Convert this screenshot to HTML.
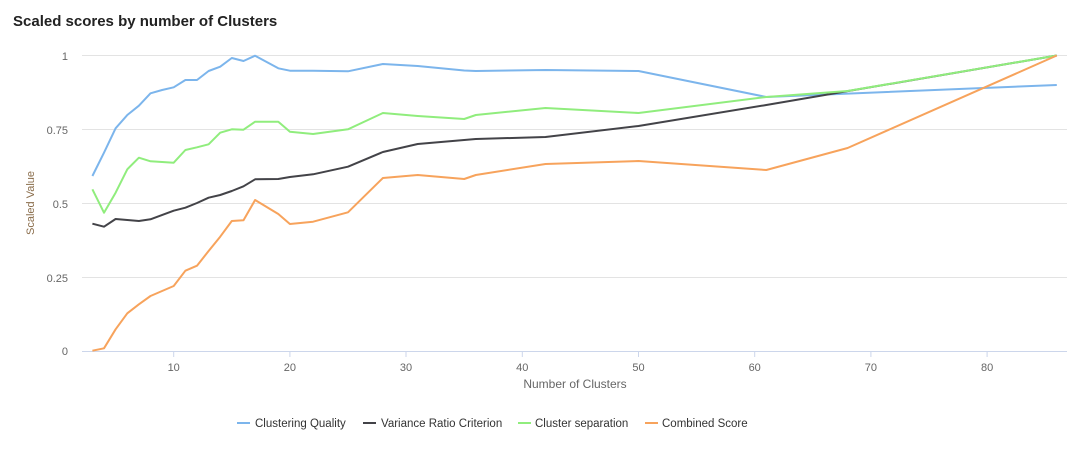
<!DOCTYPE html>
<html><head><meta charset="utf-8"><style>
body{margin:0;background:#fff;width:1085px;height:445px;overflow:hidden}
text{font-family:"Liberation Sans",sans-serif}
</style></head><body>
<svg width="1085" height="445" viewBox="0 0 1085 445">
<text x="13" y="26" font-size="15" font-weight="bold" fill="#222">Scaled scores by number of Clusters</text>
<g stroke="#e3e3e3" stroke-width="1">
<line x1="82" x2="1067" y1="55.5" y2="55.5"/>
<line x1="82" x2="1067" y1="129.5" y2="129.5"/>
<line x1="82" x2="1067" y1="203.5" y2="203.5"/>
<line x1="82" x2="1067" y1="277.5" y2="277.5"/>
</g>
<line x1="82" x2="1067" y1="351.5" y2="351.5" stroke="#ccd6eb"/>
<g stroke="#ccd6eb"><line x1="173.7" x2="173.7" y1="351" y2="357"/><line x1="289.9" x2="289.9" y1="351" y2="357"/><line x1="406" x2="406" y1="351" y2="357"/><line x1="522.3" x2="522.3" y1="351" y2="357"/><line x1="638.5" x2="638.5" y1="351" y2="357"/><line x1="754.7" x2="754.7" y1="351" y2="357"/><line x1="870.9" x2="870.9" y1="351" y2="357"/><line x1="987.1" x2="987.1" y1="351" y2="357"/></g>
<g font-size="11" fill="#666" text-anchor="end">
<text x="68" y="60">1</text><text x="68" y="134">0.75</text><text x="68" y="208">0.5</text><text x="68" y="282">0.25</text><text x="68" y="355">0</text></g>
<g font-size="11" fill="#666" text-anchor="middle">
<text x="173.7" y="371">10</text><text x="289.9" y="371">20</text><text x="406" y="371">30</text><text x="522.3" y="371">40</text><text x="638.5" y="371">50</text><text x="754.7" y="371">60</text><text x="870.9" y="371">70</text><text x="987.1" y="371">80</text></g>
<text x="575" y="388" font-size="12" fill="#666" text-anchor="middle">Number of Clusters</text>
<text transform="translate(34,203) rotate(-90)" font-size="11" fill="#8a6d4b" text-anchor="middle">Scaled Value</text>
<g fill="none" stroke-width="2" stroke-linejoin="round">
<polyline stroke="#7cb5ec" points="92.4,176 104,152.7 115.6,128.3 127.3,115 138.9,105.7 150.5,93.3 162.1,90 173.7,87.3 185.4,80 197,80 208.6,71 220.2,66.7 231.8,58 243.5,61 255.1,55.7 278.3,68.3 289.9,70.7 313.1,70.7 348,71.3 382.9,64 417.7,66 464.2,70.5 475.8,71 545.5,70 638.5,71 766.3,97 1056.8,85"/>
<polyline stroke="#434348" points="92.4,223.7 104,226.7 115.6,219 127.3,220 138.9,221 150.5,219.3 173.7,210.7 185.4,207.7 197,203 208.6,197.7 220.2,195 231.8,191 243.5,186.3 255.1,179.3 278.3,179 289.9,177 313.1,174.3 348,166.7 382.9,152 417.7,144 475.8,139 545.5,137 638.5,126 766.3,105 1056.8,55.5"/>
<polyline stroke="#90ed7d" points="92.4,189.3 104,212.7 115.6,192.7 127.3,169.3 138.9,157.7 150.5,161.3 173.7,162.7 185.4,150 197,147.3 208.6,144.3 220.2,132.7 231.8,129.3 243.5,129.7 255.1,121.7 278.3,121.7 289.9,131.7 313.1,134 348,129.3 382.9,113 417.7,116 464.2,119 475.8,115 545.5,108 638.5,113 766.3,97 847.6,91 1056.8,55.5"/>
<polyline stroke="#f7a35c" points="92.4,350.7 104,348.3 115.6,329.3 127.3,313.3 138.9,304.3 150.5,296 173.7,286 185.4,270.7 197,265.7 208.6,251 220.2,236.7 231.8,221 243.5,220.3 255.1,200 278.3,214 289.9,224 313.1,221.7 348,212.3 382.9,178 417.7,175 464.2,179 475.8,175 545.5,164 638.5,161 766.3,170 847.6,148 1056.8,55.5"/>
</g>
<g font-size="11.5" fill="#333">
<line x1="237" x2="250" y1="423" y2="423" stroke="#7cb5ec" stroke-width="2"/><text x="255" y="427">Clustering Quality</text>
<line x1="363" x2="376" y1="423" y2="423" stroke="#434348" stroke-width="2"/><text x="381" y="427">Variance Ratio Criterion</text>
<line x1="518" x2="531" y1="423" y2="423" stroke="#90ed7d" stroke-width="2"/><text x="535" y="427">Cluster separation</text>
<line x1="645" x2="658" y1="423" y2="423" stroke="#f7a35c" stroke-width="2"/><text x="662" y="427">Combined Score</text>
</g>
</svg>
</body></html>
